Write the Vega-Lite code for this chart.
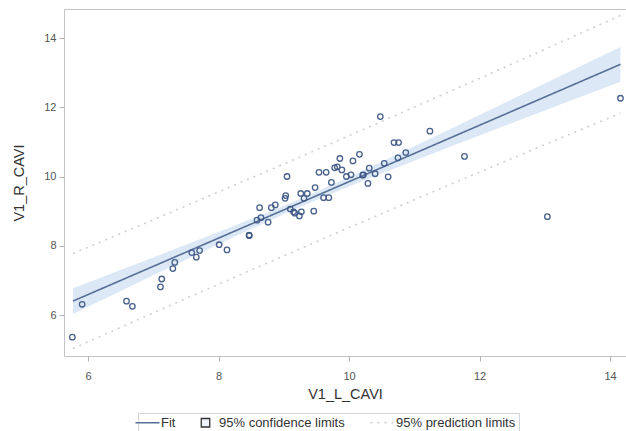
{
  "$schema": "https://vega.github.io/schema/vega-lite/v6.json",
  "autosize": {"type": "none"},
  "padding": {"left": 64, "top": 9, "right": 0, "bottom": 75},
  "width": 562,
  "height": 347,
  "config": {
    "font": "Liberation Sans",
    "view": {"stroke": "#c4c4c4", "strokeWidth": 1},
    "axis": {
      "grid": false,
      "domain": false,
      "tickColor": "#b0b0b0",
      "tickSize": 5,
      "labelColor": "#555555",
      "labelFontSize": 11,
      "labelFont": "Liberation Sans",
      "titleFont": "Liberation Sans",
      "titleFontWeight": "normal",
      "titleFontSize": 14.5,
      "titleColor": "#333333",
      "format": "d"
    }
  },
  "datasets": {
    "band": [
      {"x": 5.77, "lo": 6.031, "hi": 6.775},
      {"x": 6.5, "lo": 6.694, "hi": 7.302},
      {"x": 7.0, "lo": 7.147, "hi": 7.663},
      {"x": 7.5, "lo": 7.597, "hi": 8.028},
      {"x": 8.0, "lo": 8.045, "hi": 8.396},
      {"x": 8.5, "lo": 8.485, "hi": 8.770},
      {"x": 9.0, "lo": 8.913, "hi": 9.157},
      {"x": 9.3, "lo": 9.162, "hi": 9.397},
      {"x": 9.6, "lo": 9.402, "hi": 9.646},
      {"x": 10.0, "lo": 9.713, "hi": 9.987},
      {"x": 10.5, "lo": 10.089, "hi": 10.426},
      {"x": 11.0, "lo": 10.458, "hi": 10.872},
      {"x": 11.5, "lo": 10.823, "hi": 11.322},
      {"x": 12.0, "lo": 11.185, "hi": 11.775},
      {"x": 12.5, "lo": 11.546, "hi": 12.229},
      {"x": 13.0, "lo": 11.907, "hi": 12.683},
      {"x": 13.5, "lo": 12.266, "hi": 13.139},
      {"x": 14.16, "lo": 12.740, "hi": 13.740}
    ],
    "lines": [
      {"x": 5.77, "y": 6.403, "series": "Fit", "part": "fit"},
      {"x": 14.16, "y": 13.240, "series": "Fit", "part": "fit"},
      {"x": 5.77, "y": 7.774, "series": "95% prediction limits", "part": "upper"},
      {"x": 7.0, "y": 8.750, "series": "95% prediction limits", "part": "upper"},
      {"x": 8.0, "y": 9.552, "series": "95% prediction limits", "part": "upper"},
      {"x": 9.3, "y": 10.605, "series": "95% prediction limits", "part": "upper"},
      {"x": 10.5, "y": 11.588, "series": "95% prediction limits", "part": "upper"},
      {"x": 12.0, "y": 12.833, "series": "95% prediction limits", "part": "upper"},
      {"x": 13.0, "y": 13.671, "series": "95% prediction limits", "part": "upper"},
      {"x": 14.16, "y": 14.652, "series": "95% prediction limits", "part": "upper"},
      {"x": 5.77, "y": 5.032, "series": "95% prediction limits", "part": "lower"},
      {"x": 7.0, "y": 6.060, "series": "95% prediction limits", "part": "lower"},
      {"x": 8.0, "y": 6.888, "series": "95% prediction limits", "part": "lower"},
      {"x": 9.3, "y": 7.954, "series": "95% prediction limits", "part": "lower"},
      {"x": 10.5, "y": 8.927, "series": "95% prediction limits", "part": "lower"},
      {"x": 12.0, "y": 10.128, "series": "95% prediction limits", "part": "lower"},
      {"x": 13.0, "y": 10.919, "series": "95% prediction limits", "part": "lower"},
      {"x": 14.16, "y": 11.828, "series": "95% prediction limits", "part": "lower"}
    ],
    "points": [
      {"L": 5.76, "R": 5.36}, {"L": 5.91, "R": 6.31}, {"L": 6.59, "R": 6.40}, {"L": 6.68, "R": 6.25},
      {"L": 7.13, "R": 7.04}, {"L": 7.11, "R": 6.81}, {"L": 7.30, "R": 7.34}, {"L": 7.33, "R": 7.52},
      {"L": 7.59, "R": 7.80}, {"L": 7.66, "R": 7.67}, {"L": 7.71, "R": 7.86}, {"L": 8.01, "R": 8.03},
      {"L": 8.13, "R": 7.88}, {"L": 8.47, "R": 8.29}, {"L": 8.47, "R": 8.31}, {"L": 8.59, "R": 8.74},
      {"L": 8.65, "R": 8.81}, {"L": 8.63, "R": 9.10}, {"L": 8.76, "R": 8.68}, {"L": 8.81, "R": 9.10},
      {"L": 8.87, "R": 9.18}, {"L": 9.02, "R": 9.37}, {"L": 9.03, "R": 9.45}, {"L": 9.05, "R": 10.00},
      {"L": 9.10, "R": 9.06}, {"L": 9.15, "R": 8.98}, {"L": 9.17, "R": 8.94}, {"L": 9.24, "R": 8.86},
      {"L": 9.27, "R": 8.98}, {"L": 9.26, "R": 9.51}, {"L": 9.31, "R": 9.37}, {"L": 9.36, "R": 9.51},
      {"L": 9.46, "R": 9.00}, {"L": 9.48, "R": 9.68}, {"L": 9.54, "R": 10.12}, {"L": 9.61, "R": 9.39},
      {"L": 9.65, "R": 10.12}, {"L": 9.69, "R": 9.39}, {"L": 9.73, "R": 9.83}, {"L": 9.78, "R": 10.25},
      {"L": 9.82, "R": 10.28}, {"L": 9.86, "R": 10.52}, {"L": 9.89, "R": 10.19}, {"L": 9.96, "R": 10.00},
      {"L": 10.03, "R": 10.05}, {"L": 10.06, "R": 10.45}, {"L": 10.16, "R": 10.64}, {"L": 10.21, "R": 10.04},
      {"L": 10.22, "R": 10.05}, {"L": 10.29, "R": 9.80}, {"L": 10.31, "R": 10.24}, {"L": 10.40, "R": 10.08},
      {"L": 10.54, "R": 10.38}, {"L": 10.60, "R": 9.99}, {"L": 10.69, "R": 10.98}, {"L": 10.76, "R": 10.98},
      {"L": 10.75, "R": 10.54}, {"L": 10.87, "R": 10.69}, {"L": 11.24, "R": 11.31}, {"L": 10.48, "R": 11.73},
      {"L": 11.77, "R": 10.58}, {"L": 14.16, "R": 12.26}, {"L": 13.04, "R": 8.84}
    ]
  },
  "layer": [
    {
      "data": {"name": "band"},
      "mark": {"type": "area", "color": "#dce8f6", "opacity": 1},
      "encoding": {
        "x": {"field": "x", "type": "quantitative", "scale": {"domain": [5.632, 14.245], "nice": false, "zero": false}, "axis": {"values": [6, 8, 10, 12, 14], "title": "V1_L_CAVI", "labelPadding": 9, "titlePadding": 6}},
        "y": {"field": "lo", "type": "quantitative", "scale": {"domain": [4.816, 14.838], "nice": false, "zero": false}, "axis": {"values": [6, 8, 10, 12, 14], "title": "V1_R_CAVI", "labelPadding": 3, "titlePadding": 17}},
        "y2": {"field": "hi"}
      }
    },
    {
      "data": {"name": "lines"},
      "mark": {"type": "line", "strokeWidth": 1.6},
      "encoding": {
        "x": {"field": "x", "type": "quantitative"},
        "y": {"field": "y", "type": "quantitative"},
        "detail": {"field": "part"},
        "color": {
          "field": "series",
          "type": "nominal",
          "scale": {"domain": ["Fit", "95% confidence limits", "95% prediction limits"], "range": ["#566f96", "#333333", "#cfcfcf"]},
          "legend": {
            "title": null,
            "orient": "none",
            "direction": "horizontal",
            "legendX": 74,
            "legendY": 404,
            "strokeColor": "#d4d4d4",
            "padding": 3,
            "labelFontSize": 13,
            "labelColor": "#333333",
            "labelFont": "Liberation Sans",
            "labelOffset": 7,
            "columnPadding": 22,
            "symbolType": "stroke",
            "symbolSize": 576,
            "symbolStrokeWidth": 1.6,
            "encode": {
              "symbols": {
                "update": {
                  "shape": {"signal": "datum.value === '95% confidence limits' ? 'square' : 'stroke'"},
                  "size": {"signal": "datum.value === '95% confidence limits' ? 72 : 576"},
                  "fill": {"signal": "datum.value === '95% confidence limits' ? '#eef4fb' : 'transparent'"},
                  "strokeDash": {"signal": "datum.value === '95% prediction limits' ? [3, 3] : [1, 0]"},
                  "strokeWidth": {"signal": "datum.value === '95% confidence limits' ? 1.3 : 1.6"},
                  "opacity": {"value": 1}
                }
              }
            }
          }
        },
        "strokeDash": {
          "field": "series",
          "type": "nominal",
          "scale": {"domain": ["Fit", "95% confidence limits", "95% prediction limits"], "range": [[1, 0], [1, 0], [2, 5]]},
          "legend": null
        }
      }
    },
    {
      "data": {"name": "points"},
      "mark": {"type": "point", "shape": "circle", "filled": false, "size": 30, "strokeWidth": 1.3, "color": "#3e5886", "opacity": 0.95},
      "encoding": {
        "x": {"field": "L", "type": "quantitative"},
        "y": {"field": "R", "type": "quantitative"}
      }
    }
  ]
}
